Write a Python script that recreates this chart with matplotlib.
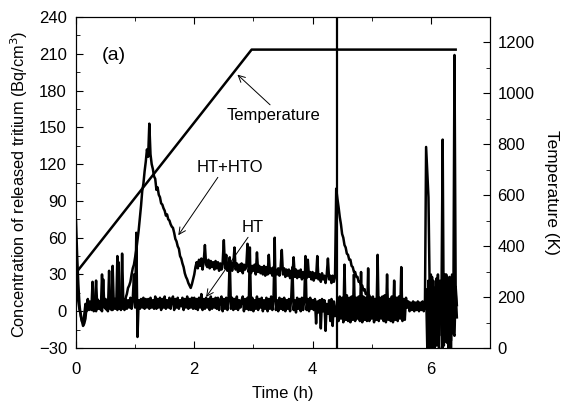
import numpy as np
import matplotlib
matplotlib.use("Agg")
import matplotlib.pyplot as plt
from matplotlib.ticker import MultipleLocator

plt.rcParams["font.family"] = ["Liberation Sans", "DejaVu Sans"]
plt.rcParams["font.size"] = 12

# sampling step of the tritium monitor (h)
TIME_STEP = 0.02

# HT+HTO concentration (Bq/cm3), one value per TIME_STEP from t = 0
c_hto = [
    74, 45, 22, 5, -4, -8, -9, -3, 6, 0, 9, 2, 7, 1, 24, 3, 8, 0, 10, 2,
    8, 1, 30, 4, 9, 2, 8, 0, 33, 3, 10, 1, 7, 2, 9, 1, 40, 3, 7, 2,
    10, 6, 11, 14, 19, 21, 24, 30, 35, 38, 44, 50, 58, 66, 76, 86, 98, 104, 114, 122,
    132, 126, 153, 128, 120, 116, 110, 108, 99, 101, 95, 93, 88, 87, 84, 82, 78, 79, 75, 74,
    71, 69, 68, 64, 59, 57, 53, 51, 45, 43, 39, 36, 31, 28, 26, 23, 21, 19, 22, 26,
    30, 36, 40, 35, 42, 37, 43, 34, 41, 54, 38, 36, 42, 35, 41, 36, 40, 34, 41, 35,
    40, 33, 39, 34, 40, 58, 35, 46, 33, 39, 34, 40, 33, 38, 52, 34, 39, 32, 38, 33,
    39, 31, 38, 34, 37, 55, 32, 38, 31, 37, 33, 38, 30, 48, 32, 37, 31, 36, 30, 37,
    29, 36, 30, 46, 31, 35, 29, 36, 28, 34, 30, 35, 29, 36, 50, 30, 35, 28, 34, 29,
    34, 27, 33, 29, 44, 28, 34, 27, 33, 28, 34, 26, 32, 27, 33, 27, 42, 28, 32, 26,
    32, 25, 31, 27, 45, 26, 30, 24, 31, 26, 29, 23, 30, 43, 26, 29, 23, 29, 24, 28,
    100, 92, 85, 77, 71, 63, 60, 54, 52, 47, 46, 42, 42, 37, 36, 32, 32, 28, 28, 24,
    24, 21, 21, 17, 18, 14, 15, 12, 13, 10, 11, 8, 10, 6, 9, 5, 9, 4, 8, 3,
    9, 2, 8, 3, 10, 2, 8, 4, 9, 1, 8, 3, 10, 2, 9, 3, 8, 2, 9, 3,
    6, 3, 7, 2, 6, 3, 7, 2, 6, 3, 7, 2, 6, 3, 7, 2, 134, 113, 93, 20,
    -25, 28, -30, 12, 20, -28, 30, -20, 25, 5, -30, 22, -18, 30, -26, 15, 28, -30, 24, -10,
    209, 15, -5,
]

# HT concentration (Bq/cm3), same sampling
c_ht = [
    30, 15, 8, 1, -2, -8, -12, -10, -6, 4, 10, 1, 8, 2, 9, 0, 7, 25, 3, 8,
    2, 9, 0, 26, 3, 10, 1, 8, 2, 9, 1, 37, 4, 10, 2, 45, 2, 8, 1, 47,
    8, 1, 10, 2, 9, 3, 11, 2, 10, 30, 3, 64, -21, 9, 2, 10, 3, 11, 2, 10,
    3, 10, 2, 11, 3, 9, 2, 12, 2, 10, 3, 11, 1, 10, 3, 12, 2, 9, 3, 11,
    2, 9, 12, 1, 10, 3, 11, 2, 9, 4, 11, 1, 10, 3, 12, 2, 10, 3, 11, 2,
    11, 2, 10, 1, 11, 3, 14, 1, 10, 2, 11, 3, 10, 1, 12, 2, 10, 3, 11, 2,
    11, 1, 9, 12, 0, 10, 2, 11, 1, 10, 44, 2, 11, 1, 10, 2, 12, 1, 9, 3,
    9, 12, 0, 10, 2, 11, 1, 52, 1, 11, 0, 9, 2, 12, 1, 10, 3, 11, 0, 9,
    2, 11, 0, 10, 2, 12, 1, 10, 60, 1, 9, 0, 11, 2, 10, 1, 11, 0, 9, 2,
    10, 0, 11, 36, 1, 9, -1, 11, 2, 10, 0, 11, 1, 9, 45, 1, 10, 0, 11, 2,
    9, 1, 10, -10, 8, -1, 9, -14, 10, 0, 9, -16, 6, -2, 9, -8, 10, -12, 8, -4,
    0, 10, -8, 12, -6, 11, -9, 38, -7, 13, -8, 11, -9, 12, -7, 30, -8, 11, -6, 12,
    -8, 32, -9, 12, -7, 11, -8, 35, -8, 11, -6, 12, -9, 10, -7, 46, -8, 11, -6, 12,
    -8, 13, -9, 30, -7, 10, -8, 12, -9, 25, -7, 11, -8, 12, -6, 36, -8, 10, -7, 11,
    3, 8, 0, 7, 1, 8, 0, 7, 1, 8, 0, 7, 1, 8, 0, 7, 18, -30, 25, -30,
    30, -22, 25, -30, 10, 27, -25, -30, 22, 8, 140, -28, 30, -25, 28, -30, 20, -24, 30, -18,
    -20, 20, 5,
]

# full-scale glitch of the monitor at the end of heating
t_glitch = [4.41, 4.41]
c_glitch = [-40, 260]

# furnace temperature program
t_temp = [0, 2.97, 6.42]
temp_k = [295, 1172, 1172]

t_hto = np.arange(len(c_hto)) * TIME_STEP
t_ht = np.arange(len(c_ht)) * TIME_STEP

fig = plt.figure(figsize=(5.7, 4.05), dpi=100)
ax = fig.add_axes([0.1333, 0.1407, 0.7263, 0.8173])
ax2 = ax.twinx()

ax.plot(t_hto, c_hto, color="black", lw=1.8)
ax.plot(t_ht, c_ht, color="black", lw=1.8)
ax.plot(t_glitch, c_glitch, color="black", lw=1.6)
ax2.plot(t_temp, temp_k, color="black", lw=1.8)

ax.set_xlim(0, 7)
ax.set_ylim(-30, 240)
ax2.set_ylim(0, 1300)

ax.xaxis.set_major_locator(MultipleLocator(2))
ax.xaxis.set_minor_locator(MultipleLocator(1))
ax.yaxis.set_major_locator(MultipleLocator(30))
ax.yaxis.set_minor_locator(MultipleLocator(15))
ax2.yaxis.set_major_locator(MultipleLocator(200))
ax2.yaxis.set_minor_locator(MultipleLocator(100))

ax.tick_params(which="both", direction="in", top=True, right=False)
ax.tick_params(which="major", length=5)
ax.tick_params(which="minor", length=3)
ax.tick_params(axis="x", which="major", pad=10)
ax.tick_params(axis="y", which="major", pad=6.5)
ax2.tick_params(which="both", direction="in")
ax2.tick_params(which="major", length=5, pad=5.5)
ax2.tick_params(which="minor", length=3)

ax.set_xlabel("Time (h)")
ax.set_ylabel("Concentration of released tritium (Bq/cm$^3$)", fontsize=11.8)
ax2.set_ylabel("Temperature (K)", rotation=270, fontsize=12.4)
ax.xaxis.set_label_coords(0.499, -0.116)
ax.yaxis.set_label_coords(-0.112, 0.495)
ax2.yaxis.set_label_coords(1.167, 0.471)

ax.text(0.44, 209, "(a)", fontsize=14, va="center", ha="left")

arrow = dict(arrowstyle="->", color="black", lw=0.7, shrinkA=0, shrinkB=0)
ax.annotate("Temperature", xy=(2.73, 193), xytext=(2.54, 160),
            va="center", ha="left", fontsize=12,
            arrowprops=dict(arrow, relpos=(0.5, 1.0)))
ax.annotate("HT+HTO", xy=(1.73, 62), xytext=(2.6, 117.6),
            va="center", ha="center", fontsize=12,
            arrowprops=dict(arrow, relpos=(0.35, 0.0)))
ax.annotate("HT", xy=(2.2, 11.6), xytext=(2.98, 68.7),
            va="center", ha="center", fontsize=12,
            arrowprops=dict(arrow, relpos=(0.4, 0.0)))

fig.savefig("out.png", dpi=100)
